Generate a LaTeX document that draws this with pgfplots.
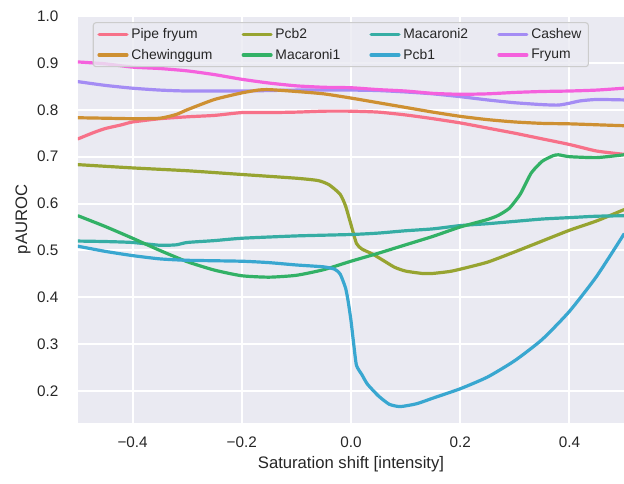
\documentclass[border=0pt]{standalone}
\usepackage{pgfplots}
\pgfplotsset{compat=1.18}
\usepackage{fontspec}
\setmainfont{Liberation Sans}
\definecolor{bgc}{HTML}{EAEAF2}
\definecolor{txt}{HTML}{262626}
\definecolor{c1}{HTML}{F77189}
\definecolor{c2}{HTML}{CE9032}
\definecolor{c3}{HTML}{97A431}
\definecolor{c4}{HTML}{32B166}
\definecolor{c5}{HTML}{36ADA4}
\definecolor{c6}{HTML}{39A7D0}
\definecolor{c7}{HTML}{A48CF4}
\definecolor{c8}{HTML}{F561DD}
\begin{document}
\begin{tikzpicture}
\begin{axis}[
  scale only axis,
  width=393.12pt, height=293.04pt,
  xmin=-0.5, xmax=0.5, ymin=0.132, ymax=1.0,
  axis background/.style={fill=bgc},
  axis line style={draw=none},
  major tick length=0pt,
  grid=major,
  major grid style={white, line width=1.4pt},
  xtick={-0.4,-0.2,0,0.2,0.4},
  xticklabels={−0.4,−0.2,0.0,0.2,0.4},
  ytick={0.2,0.3,0.4,0.5,0.6,0.7,0.8,0.9,1.0},
  yticklabels={0.2,0.3,0.4,0.5,0.6,0.7,0.8,0.9,1.0},
  tick label style={font=\fontsize{11}{13}\selectfont, text=txt, inner sep=0pt},
  yticklabel style={anchor=east},
  xticklabel style={anchor=north},
  yticklabel shift=14pt,
  xticklabel shift=9.5pt,
  xlabel={Saturation shift [intensity]},
  ylabel={pAUROC},
  label style={font=\fontsize{12}{14}\selectfont, text=txt},
  xlabel style={at={(rel axis cs:0.5,0)}, anchor=north, yshift=-24pt, inner sep=0pt},
  ylabel style={at={(rel axis cs:0,0.5)}, anchor=south, yshift=34pt, inner sep=0pt},
  legend columns=4,
  legend cell align=left,
  legend style={at={(rel axis cs:0.027,0.985)}, anchor=north west,
    fill=bgc, fill opacity=0.8, text opacity=1, draw=black!20, line width=0.8pt,
    rounded corners=2pt, font=\fontsize{10}{12}\selectfont, text=txt,
    inner xsep=3pt, inner ysep=2pt, row sep=2.2pt,
    /tikz/every even column/.append style={column sep=19pt}},
  legend image code/.code={\draw[#1, line width=2.4pt] (0pt,0pt) -- (20pt,0pt);},
  every axis plot/.append style={line width=2.3pt, line join=round, line cap=round, smooth, tension=0.35},
  clip=true,
]
\addplot[c1] coordinates {(-0.5,0.738) (-0.47,0.752) (-0.45,0.760) (-0.42,0.768) (-0.4,0.774) (-0.35,0.781) (-0.3,0.785) (-0.25,0.788) (-0.2,0.794) (-0.15,0.794) (-0.1,0.795) (-0.05,0.797) (0.0,0.797) (0.05,0.795) (0.1,0.789) (0.15,0.781) (0.2,0.772) (0.25,0.761) (0.3,0.750) (0.35,0.738) (0.4,0.726) (0.45,0.712) (0.5,0.705)};
\addlegendentry{Pipe fryum}
\addplot[c3] coordinates {(-0.5,0.683) (-0.4,0.676) (-0.3,0.670) (-0.2,0.662) (-0.1,0.654) (-0.06,0.649) (-0.04,0.640) (-0.02,0.620) (-0.01,0.595) (0.0,0.555) (0.01,0.515) (0.02,0.503) (0.04,0.492) (0.06,0.478) (0.08,0.464) (0.1,0.456) (0.13,0.451) (0.15,0.451) (0.18,0.455) (0.2,0.460) (0.25,0.475) (0.3,0.497) (0.35,0.520) (0.4,0.543) (0.45,0.563) (0.5,0.587)};
\addlegendentry{Pcb2}
\addplot[c5] coordinates {(-0.5,0.520) (-0.45,0.519) (-0.4,0.517) (-0.35,0.511) (-0.32,0.512) (-0.3,0.517) (-0.25,0.521) (-0.2,0.526) (-0.1,0.531) (0.0,0.534) (0.05,0.537) (0.1,0.542) (0.15,0.546) (0.2,0.553) (0.25,0.557) (0.3,0.562) (0.35,0.567) (0.4,0.570) (0.45,0.573) (0.5,0.574)};
\addlegendentry{Macaroni2}
\addplot[c7] coordinates {(-0.5,0.860) (-0.45,0.852) (-0.4,0.846) (-0.35,0.842) (-0.3,0.840) (-0.2,0.840) (-0.1,0.842) (0.0,0.842) (0.05,0.841) (0.1,0.838) (0.15,0.834) (0.2,0.828) (0.25,0.821) (0.3,0.815) (0.35,0.811) (0.38,0.810) (0.4,0.814) (0.42,0.819) (0.45,0.822) (0.5,0.821)};
\addlegendentry{Cashew}
\addplot[c2] coordinates {(-0.5,0.783) (-0.45,0.782) (-0.4,0.781) (-0.35,0.782) (-0.32,0.79) (-0.3,0.800) (-0.25,0.822) (-0.2,0.836) (-0.17,0.842) (-0.15,0.843) (-0.1,0.839) (-0.05,0.834) (0.0,0.825) (0.05,0.815) (0.1,0.805) (0.15,0.795) (0.2,0.786) (0.25,0.779) (0.3,0.774) (0.35,0.771) (0.4,0.770) (0.45,0.768) (0.5,0.766)};
\addlegendentry{Chewinggum}
\addplot[c4] coordinates {(-0.5,0.574) (-0.45,0.551) (-0.4,0.526) (-0.35,0.500) (-0.3,0.476) (-0.25,0.458) (-0.2,0.446) (-0.15,0.443) (-0.1,0.447) (-0.05,0.459) (0.0,0.477) (0.05,0.494) (0.1,0.512) (0.15,0.530) (0.2,0.550) (0.25,0.566) (0.27,0.575) (0.29,0.590) (0.31,0.620) (0.33,0.665) (0.35,0.690) (0.37,0.702) (0.38,0.704) (0.4,0.700) (0.45,0.698) (0.5,0.704)};
\addlegendentry{Macaroni1}
\addplot[c6] coordinates {(-0.5,0.509) (-0.45,0.498) (-0.4,0.489) (-0.35,0.482) (-0.3,0.479) (-0.2,0.477) (-0.15,0.474) (-0.1,0.469) (-0.05,0.465) (-0.03,0.460) (-0.02,0.450) (-0.01,0.420) (-0.005,0.390) (0.0,0.350) (0.005,0.300) (0.01,0.255) (0.02,0.235) (0.03,0.215) (0.05,0.190) (0.07,0.172) (0.09,0.167) (0.12,0.173) (0.15,0.185) (0.2,0.205) (0.25,0.230) (0.3,0.265) (0.35,0.310) (0.4,0.370) (0.45,0.445) (0.5,0.535)};
\addlegendentry{Pcb1}
\addplot[c8] coordinates {(-0.5,0.902) (-0.45,0.898) (-0.4,0.891) (-0.35,0.888) (-0.3,0.883) (-0.25,0.875) (-0.2,0.865) (-0.15,0.857) (-0.1,0.851) (-0.05,0.848) (0.0,0.847) (0.05,0.843) (0.1,0.840) (0.15,0.835) (0.2,0.833) (0.25,0.834) (0.3,0.837) (0.35,0.839) (0.4,0.840) (0.45,0.842) (0.5,0.846)};
\addlegendentry{Fryum}
\end{axis}
\pgfresetboundingbox
\path[use as bounding box] (current axis.south west) ++(-56.16pt,-43.92pt) rectangle ([yshift=11.52pt]current axis.north east);
\end{tikzpicture}
\end{document}
